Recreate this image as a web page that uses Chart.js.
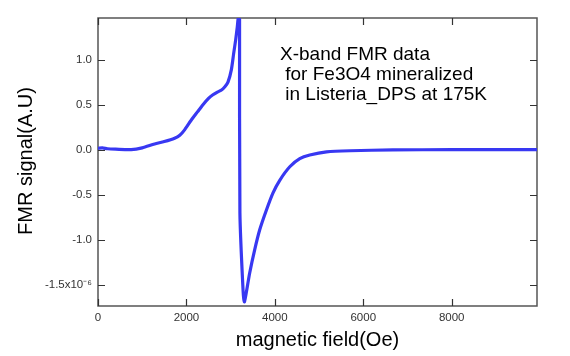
<!DOCTYPE html>
<html>
<head>
<meta charset="utf-8">
<script src="https://cdn.jsdelivr.net/npm/chart.js@4/dist/chart.umd.min.js"></script>
<style>
  html, body { margin: 0; padding: 0; background: #fff; }
  #wrap { width: 570px; height: 356px; position: relative; }
</style>
</head>
<body>
<div id="wrap"><canvas id="c" width="570" height="356"></canvas></div>
<script>
// Magnetic field (Oe)
const fieldOe = [0, 100, 215, 400, 750, 1000, 1280, 1500, 1733, 1850, 1959, 2111, 2250, 2374, 2500, 2600, 2700, 2785, 2870, 2940, 3017, 3069, 3114, 3150, 3166, 3180, 3195, 3202, 3210, 3280, 3310, 3350, 3431, 3545, 3658, 3810, 3959, 4111, 4338, 4564, 4790, 5169, 5700, 6670, 8000, 9930];
// FMR signal (A.U, x10^-6)
const signal = [0.015, 0.02, 0.01, 0.005, 0.0, 0.02, 0.063, 0.09, 0.127, 0.16, 0.22, 0.33, 0.42, 0.50, 0.57, 0.61, 0.64, 0.66, 0.70, 0.75, 0.89, 1.07, 1.22, 1.36, 1.44, 1.48, 1.42, 1.45, -0.7, -1.55, -1.69, -1.60, -1.37, -1.11, -0.89, -0.67, -0.48, -0.34, -0.19, -0.10, -0.06, -0.025, -0.012, -0.003, 0.0, 0.0];
const xTicks = [0, 2000, 4000, 6000, 8000];
const yTicks = [-1.5, -1.0, -0.5, 0.0, 0.5, 1.0];
const annotation = ["X-band FMR data", " for Fe3O4 mineralized", " in Listeria_DPS at 175K"];
const xTitle = "magnetic field(Oe)";
const yTitle = "FMR signal(A.U)";

const FONT = "'Liberation Sans', Arial, sans-serif";

const framePlugin = {
  id: 'frame',
  beforeDatasetsDraw(chart) {
    const {ctx, chartArea: a, scales} = chart;
    ctx.save();
    ctx.strokeStyle = '#555';
    ctx.lineWidth = 1.5;
    ctx.strokeRect(a.left, a.top, a.right - a.left, a.bottom - a.top);
    ctx.lineWidth = 1.2;
    ctx.strokeStyle = '#333';
    const L = 7;
    scales.x.ticks.forEach(t => {
      const px = Math.round(scales.x.getPixelForValue(t.value)) + 0.5;
      ctx.beginPath();
      ctx.moveTo(px, a.top); ctx.lineTo(px, a.top + L);
      ctx.moveTo(px, a.bottom); ctx.lineTo(px, a.bottom - L);
      ctx.stroke();
    });
    scales.y.ticks.forEach(t => {
      const py = Math.round(scales.y.getPixelForValue(t.value)) + 0.5;
      ctx.beginPath();
      ctx.moveTo(a.left, py); ctx.lineTo(a.left + L, py);
      ctx.moveTo(a.right, py); ctx.lineTo(a.right - L, py);
      ctx.stroke();
    });
    ctx.restore();
  },
  afterDraw(chart) {
    const {ctx, chartArea: a} = chart;
    ctx.save();
    ctx.fillStyle = '#000';
    ctx.font = '20px ' + FONT;
    ctx.textAlign = 'center';
    ctx.textBaseline = 'middle';
    ctx.fillText(xTitle, (a.left + a.right) / 2, 340);
    ctx.translate(26, 161);
    ctx.rotate(-Math.PI / 2);
    ctx.fillText(yTitle, 0, 0);
    ctx.restore();

    ctx.save();
    ctx.fillStyle = '#000';
    ctx.font = '19px ' + FONT;
    ctx.textAlign = 'left';
    ctx.textBaseline = 'alphabetic';
    annotation.forEach((s, i) => ctx.fillText(s, 280, 60 + i * 20));
    ctx.restore();
  }
};

new Chart(document.getElementById('c'), {
  type: 'scatter',
  data: {
    datasets: [{
      data: fieldOe.map((x, i) => ({x: x, y: signal[i]})),
      showLine: true,
      borderColor: '#3838f2',
      borderWidth: 3.2,
      pointRadius: 0,
      tension: 0.25,
      fill: false
    }]
  },
  options: {
    responsive: false,
    animation: false,
    devicePixelRatio: 1,
    layout: { padding: { left: 0, top: 18, right: 33, bottom: 0 } },
    plugins: { legend: { display: false }, tooltip: { enabled: false } },
    scales: {
      x: {
        type: 'linear',
        min: 0, max: 9930,
        afterFit(s) { s.height = 50; },
        afterBuildTicks(s) { s.ticks = xTicks.map(v => ({value: v})); },
        grid: { display: false, drawTicks: false },
        border: { display: false },
        ticks: {
          padding: 5,
          color: '#333',
          font: { family: FONT, size: 11.5 },
          maxRotation: 0,
          callback: v => String(v)
        }
      },
      y: {
        type: 'linear',
        min: -1.737, max: 1.463,
        afterFit(s) { s.width = 98; },
        afterBuildTicks(s) { s.ticks = yTicks.map(v => ({value: v})); },
        grid: { display: false, drawTicks: false },
        border: { display: false },
        ticks: {
          padding: 6,
          color: '#333',
          font: { family: FONT, size: 11.5 },
          callback: v => (Math.abs(v + 1.5) < 1e-6 ? '-1.5x10\u207B\u2076' : v.toFixed(1))
        }
      }
    }
  },
  plugins: [framePlugin]
});
</script>
</body>
</html>
